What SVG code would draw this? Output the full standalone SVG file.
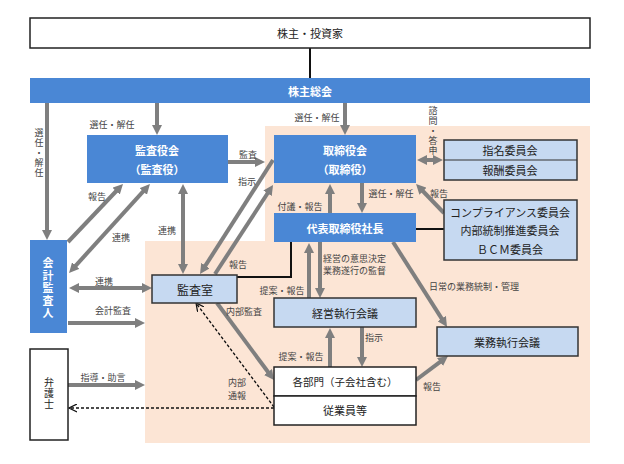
<svg xmlns="http://www.w3.org/2000/svg" width="624" height="464" viewBox="0 0 624 464">
<style>
text{font-family:"Noto Sans CJK JP","Noto Sans CJK SC",sans-serif;dominant-baseline:central;text-anchor:middle}
.v{writing-mode:vertical-rl}
.bl{fill:#4a87d5}
.lb{fill:#c6d9f1;stroke:#333;stroke-width:1.5}
.wb{fill:#fff;stroke:#222;stroke-width:1.5}
.wt{fill:#fff;font-size:11px;font-weight:bold}
.bt{fill:#222;font-size:11px}
.lab{fill:#444;font-size:9px}
.ar{stroke:#7f7f7f;stroke-width:4;fill:none}
.k{stroke:#111;stroke-width:2;fill:none}
.ds{stroke:#111;stroke-width:1.3;fill:none;stroke-dasharray:3 2}
</style>
<defs>
<marker id="ah" viewBox="0 0 10 10" refX="1" refY="5" markerWidth="10" markerHeight="10" markerUnits="userSpaceOnUse" orient="auto-start-reverse"><path d="M0,0L10,5L0,10z" fill="#7f7f7f"/></marker>
<marker id="oh" viewBox="0 0 10 10" refX="9" refY="5" markerWidth="9" markerHeight="9" markerUnits="userSpaceOnUse" orient="auto"><path d="M0,0.5L9,5L0,9.5" fill="none" stroke="#111" stroke-width="1.4"/></marker>
</defs>
<rect width="624" height="464" fill="#fff"/>
<path d="M265,126H590V443H145V241H265Z" fill="#fce5d5"/>

<g id="connectors">
<line class="k" x1="310" y1="48" x2="310" y2="78"/>
<polyline class="k" points="237,277 291,277 291,242"/>
<line class="k" x1="416" y1="229" x2="444" y2="229"/>
<line class="ar" x1="47" y1="103" x2="47" y2="231" marker-end="url(#ah)"/>
<line class="ar" x1="157" y1="103" x2="157" y2="126" marker-end="url(#ah)"/>
<line class="ar" x1="345" y1="103" x2="345" y2="126" marker-end="url(#ah)"/>
<line class="ar" x1="426" y1="160" x2="434" y2="160" marker-start="url(#ah)" marker-end="url(#ah)"/>
<line class="ar" x1="228" y1="162" x2="256" y2="162" marker-end="url(#ah)"/>
<line class="ar" x1="273" y1="160" x2="204.9" y2="266.4" marker-end="url(#ah)"/>
<line class="ar" x1="215" y1="274" x2="268.1" y2="192.5" marker-end="url(#ah)"/>
<line class="ar" x1="68" y1="242" x2="116.8" y2="190.5" marker-end="url(#ah)"/>
<line class="ar" x1="75.1" y1="266.3" x2="143.9" y2="190.7" marker-start="url(#ah)" marker-end="url(#ah)"/>
<line class="ar" x1="183" y1="193" x2="183" y2="265" marker-start="url(#ah)" marker-end="url(#ah)"/>
<line class="ar" x1="78" y1="288" x2="143" y2="288" marker-start="url(#ah)" marker-end="url(#ah)"/>
<line class="ar" x1="68" y1="323" x2="136" y2="323" marker-end="url(#ah)"/>
<line class="ar" x1="68" y1="385" x2="136" y2="385" marker-end="url(#ah)"/>
<line class="ar" x1="217" y1="303" x2="268.6" y2="372.8" marker-end="url(#ah)"/>
<line class="ar" x1="330" y1="213" x2="330" y2="193" marker-end="url(#ah)"/>
<line class="ar" x1="362" y1="183" x2="362" y2="204" marker-end="url(#ah)"/>
<line class="ar" x1="444" y1="213" x2="422.3" y2="190.5" marker-end="url(#ah)"/>
<line class="ar" x1="393" y1="242" x2="442.2" y2="319.4" marker-end="url(#ah)"/>
<line class="ar" x1="309" y1="298" x2="309" y2="252" marker-end="url(#ah)"/>
<line class="ar" x1="320" y1="242" x2="320" y2="289" marker-end="url(#ah)"/>
<line class="ar" x1="330" y1="367" x2="330" y2="337" marker-end="url(#ah)"/>
<line class="ar" x1="362" y1="327" x2="362" y2="358" marker-end="url(#ah)"/>
<line class="ar" x1="416" y1="380" x2="440.8" y2="361.4" marker-end="url(#ah)"/>
<line class="ds" x1="274" y1="408" x2="69" y2="408" marker-end="url(#oh)"/>
<line class="ds" x1="274" y1="407" x2="196" y2="303" marker-end="url(#oh)"/>
</g>

<g id="labels">
<text class="lab v" x="39" y="153" letter-spacing="1">選任・解任</text>
<text class="lab" x="112" y="124">選任・解任</text>
<text class="lab" x="317" y="117">選任・解任</text>
<text class="lab v" x="433" y="131" letter-spacing="1">諮問・答申</text>
<text class="lab" x="248" y="154">監査</text>
<text class="lab" x="247" y="181">指示</text>
<text class="lab" x="97" y="196">報告</text>
<text class="lab" x="121" y="237">連携</text>
<text class="lab" x="167" y="230">連携</text>
<text class="lab" x="238" y="264">報告</text>
<text class="lab" x="104" y="281">連携</text>
<text class="lab" x="113" y="310">会計監査</text>
<text class="lab" x="103" y="377">指導・助言</text>
<text class="lab" x="237" y="382">内部</text>
<text class="lab" x="237" y="395">通報</text>
<text class="lab" x="244" y="311">内部監査</text>
<text class="lab" x="300" y="206">付議・報告</text>
<text class="lab" x="391" y="193">選任・解任</text>
<text class="lab" x="439" y="193">報告</text>
<text class="lab" x="323" y="258" style="text-anchor:start">経営の意思決定</text>
<text class="lab" x="323" y="270" style="text-anchor:start">業務遂行の監督</text>
<text class="lab" x="474" y="286">日常の業務統制・管理</text>
<text class="lab" x="282" y="290">提案・報告</text>
<text class="lab" x="301" y="356">提案・報告</text>
<text class="lab" x="374" y="337">指示</text>
<text class="lab" x="432" y="386">報告</text>
</g>

<g id="shareholders">
<rect class="wb" x="30" y="18" width="560" height="30"/>
<text class="bt" x="310" y="33">株主・投資家</text>
</g>
<g id="agm">
<rect class="bl" x="30" y="78" width="560" height="25"/>
<text class="wt" x="310" y="91">株主総会</text>
</g>
<g id="kansayakukai">
<rect class="bl" x="87" y="135" width="141" height="48"/>
<text class="wt" x="157" y="150">監査役会</text>
<text class="wt" x="157" y="169">（監査役）</text>
</g>
<g id="torishimariyakukai">
<rect class="bl" x="274" y="135" width="142" height="48"/>
<text class="wt" x="345" y="150">取締役会</text>
<text class="wt" x="345" y="169">（取締役）</text>
</g>
<g id="president">
<rect class="bl" x="274" y="213" width="142" height="29"/>
<text class="wt" x="345" y="228">代表取締役社長</text>
</g>
<g id="committees">
<rect class="lb" x="444" y="140" width="133" height="40"/>
<line x1="444" y1="160" x2="577" y2="160" stroke="#333" stroke-width="1.2"/>
<text class="bt" x="510" y="150">指名委員会</text>
<text class="bt" x="510" y="170">報酬委員会</text>
</g>
<g id="compliance">
<rect class="lb" x="444" y="200" width="133" height="60"/>
<text class="bt" x="510" y="212">コンプライアンス委員会</text>
<text class="bt" x="510" y="230">内部統制推進委員会</text>
<text class="bt" x="510" y="249">ＢＣＭ委員会</text>
</g>
<g id="auditor">
<rect class="bl" x="30" y="240" width="37" height="93"/>
<text class="wt v" x="48" y="289" letter-spacing="1.5">会計監査人</text>
</g>
<g id="kansashitsu">
<rect class="lb" x="152" y="275" width="85" height="28" stroke-width="2"/>
<text class="bt" x="195" y="289" style="font-size:12px">監査室</text>
</g>
<g id="keiei">
<rect class="lb" x="274" y="298" width="142" height="29"/>
<text class="bt" x="345" y="313">経営執行会議</text>
</g>
<g id="gyomu">
<rect class="lb" x="437" y="327" width="141" height="29"/>
<text class="bt" x="507" y="342">業務執行会議</text>
</g>
<g id="departments">
<rect class="wb" x="274" y="367" width="142" height="29"/>
<text class="bt" x="345" y="381" style="font-size:10.5px">各部門（子会社含む）</text>
</g>
<g id="employees">
<rect class="wb" x="274" y="396" width="142" height="29"/>
<text class="bt" x="345" y="410">従業員等</text>
</g>
<g id="lawyer">
<rect class="wb" x="30" y="349" width="38" height="91"/>
<text class="bt v" x="49" y="394" style="font-size:10px" letter-spacing="1">弁護士</text>
</g>
</svg>
